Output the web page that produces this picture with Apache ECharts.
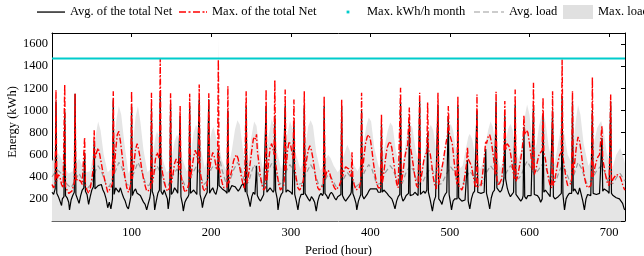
<!DOCTYPE html>
<html>
<head>
<meta charset="utf-8">
<script src="https://cdn.jsdelivr.net/npm/echarts@6/dist/echarts.min.js"></script>
<style>
  html, body { margin: 0; padding: 0; background: #fff; }
  #chart { width: 644px; height: 256px; }
</style>
</head>
<body>
<div id="chart"></div>
<script>
// tick labels shown on the axes
var xTicks = [100, 200, 300, 400, 500, 600, 700]
var yTicks = [200, 400, 600, 800, 1000, 1200, 1400, 1600]

// Max. kWh/h month (flat line)
var maxMonth = [[0, 1470], [720, 1470]]

// Max. load [hour, kWh]
var maxLoad = [[0,540],[4,600],[8,610],[12,560],[16,470],[21,430],
  [26,450],[30,520],[34,565],[38,500],[43,440],
  [48,450],[52,620],[55,780],[58,900],[61,820],[65,600],[70,440],
  [74,470],[78,700],[81,920],[84,1040],[87,960],[91,700],[96,430],
  [99,480],[102,720],[105,940],[108,1040],[111,900],[115,640],[120,440],
  [124,470],[127,620],[130,760],[132,814],[135,740],[139,560],[144,440],
  [148,460],[151,600],[154,720],[157,780],[160,740],[164,560],[169,450],
  [172,480],[175,640],[178,800],[181,870],[184,820],[188,620],[192,480],
  [195,560],[198,720],[201,820],[203,850],[206,760],[208,700],[209,1660],[210,700],[213,560],[218,470],
  [222,500],[226,640],[230,830],[233,910],[236,870],[240,640],[244,470],
  [247,560],[250,740],[254,900],[257,860],[261,620],[265,470],
  [268,520],[272,760],[276,920],[279,860],[283,620],[288,470],
  [291,540],[295,760],[299,905],[302,840],[306,620],[312,470],
  [315,520],[319,700],[322,860],[325,910],[328,860],[332,620],[337,460],
  [340,480],[344,560],[347,600],[350,570],[354,500],[359,440],
  [362,470],[366,580],[371,690],[374,640],[378,520],[384,450],
  [387,500],[391,680],[395,860],[398,935],[401,900],[405,660],[411,480],
  [414,520],[418,680],[422,820],[425,890],[428,860],[432,640],[437,480],
  [440,510],[444,680],[447,820],[450,880],[453,840],[457,640],[463,480],
  [466,520],[470,700],[473,820],[476,870],[479,820],[483,620],[488,480],
  [491,520],[495,700],[498,820],[501,880],[504,820],[508,620],[513,480],
  [516,500],[520,650],[523,760],[525,790],[528,740],[532,580],[538,470],
  [541,520],[545,700],[548,820],[551,900],[554,850],[558,640],[563,480],
  [566,520],[570,720],[573,830],[576,880],[579,820],[582,660],[586,560],
  [589,620],[592,820],[595,980],[597,1054],[600,960],[603,760],[606,640],
  [609,700],[612,860],[615,950],[617,980],[620,900],[624,680],[629,500],
  [632,540],[636,700],[639,820],[641,850],[644,780],[648,600],[652,540],
  [655,680],[658,900],[661,1050],[664,960],[668,700],[674,500],
  [677,540],[681,700],[685,840],[690,905],[693,820],[697,620],[702,480],
  [705,500],[709,600],[714,660],[717,600],[720,520]]

// Avg. load [hour, kWh]
var avgLoad = [[0,400],[4,440],[8,455],[13,420],[19,330],[24,300],[30,380],[34,430],[39,360],[45,300],
  [50,340],[55,460],[58,500],[62,450],[68,330],[72,310],[78,420],[84,530],[88,480],[94,330],
  [98,320],[103,440],[108,530],[112,470],[118,330],[122,320],[127,420],[132,500],[136,440],[142,320],
  [146,320],[151,400],[157,470],[161,430],[167,320],[171,320],[176,420],[181,490],[185,440],[191,330],
  [195,360],[200,470],[203,500],[207,470],[210,600],[213,480],[219,330],[223,350],[228,460],[233,530],
  [237,480],[243,330],[247,350],[251,450],[254,510],[258,460],[264,330],[268,360],[272,460],[276,520],
  [280,470],[286,330],[290,360],[295,460],[299,510],[303,460],[309,330],[314,340],[320,440],[325,510],
  [329,460],[335,330],[340,320],[344,380],[347,420],[351,390],[357,310],[362,320],[367,390],[371,440],
  [375,400],[382,310],[387,340],[393,450],[398,510],[402,470],[408,330],[413,340],[419,440],[425,500],
  [429,460],[435,330],[440,340],[445,440],[450,500],[454,460],[460,330],[465,340],[471,430],[476,480],
  [480,440],[486,330],[490,340],[496,430],[501,490],[505,450],[511,330],[516,330],[521,400],[525,450],
  [529,410],[536,320],[541,340],[546,440],[551,500],[555,460],[561,340],[566,350],[571,440],[576,500],
  [580,460],[586,380],[590,420],[594,500],[597,540],[601,490],[606,420],[611,460],[617,520],[621,470],
  [628,340],[633,360],[638,460],[641,500],[645,460],[651,350],[656,420],[661,530],[665,480],[672,340],
  [677,360],[684,450],[690,500],[694,450],[700,330],[705,340],[710,400],[714,430],[718,380],[720,360]]

// Avg. of the total Net [hour, kWh]
var netAvg = [[0,260],[2,240],[4,290],[5,1080],[6,250],[8,220],[10,210],[12,140],[13,200],[15,220],[16,1000],[17,230],
  [19,210],[21,170],[22,100],[24,190],[26,230],[28,260],[29,1150],[30,240],[32,200],[34,160],[36,230],[38,280],
  [40,300],[41,620],[42,270],[44,240],[46,150],[48,220],[50,280],[52,310],[53,720],[54,290],[56,300],[58,320],
  [60,310],[62,330],[64,280],[66,250],[68,200],[70,120],[72,170],[74,110],[76,200],[77,1100],[78,240],[80,300],
  [82,280],[84,260],[86,300],[88,250],[90,210],[92,180],[94,130],[96,110],[98,180],[99,220],[100,1050],[101,230],
  [103,270],[105,290],[107,250],[109,260],[111,230],[113,200],[115,170],[117,150],[119,100],[121,160],[123,210],[124,260],
  [125,1020],[126,270],[128,220],[129,100],[131,180],[133,250],[135,280],[136,1130],[137,270],[139,240],[141,280],[143,290],
  [145,200],[146,110],[148,220],[149,1060],[150,240],[152,260],[154,300],[156,280],[158,250],[160,240],[161,950],[162,220],
  [164,150],[165,90],[167,170],[169,200],[171,220],[172,240],[173,1040],[174,250],[176,260],[178,280],[180,260],[182,240],
  [184,250],[185,1100],[186,240],[188,180],[189,120],[191,200],[193,230],[195,260],[196,250],[197,1100],[198,250],[200,280],
  [202,300],[204,260],[206,240],[208,300],[209,650],[210,320],[212,310],[214,290],[216,300],[218,270],[220,250],[221,1000],
  [222,260],[224,290],[226,320],[228,330],[230,310],[232,290],[234,270],[236,290],[238,320],[240,340],[242,300],[243,260],
  [244,1040],[245,250],[247,200],[249,130],[251,220],[253,260],[255,240],[256,250],[257,500],[258,230],[260,200],[262,180],
  [264,210],[266,240],[268,250],[269,1040],[270,260],[272,280],[274,300],[276,290],[278,260],[279,280],[280,950],[281,270],
  [283,200],[284,100],[286,200],[288,240],[290,260],[292,250],[293,1040],[294,260],[296,280],[298,290],[300,260],[302,240],
  [303,250],[304,900],[305,240],[307,180],[309,100],[311,200],[313,240],[315,250],[316,240],[317,1040],[318,250],[320,240],
  [322,200],[324,180],[326,220],[328,200],[330,170],[332,90],[334,180],[336,230],[338,250],[340,230],[341,250],[342,1040],
  [343,250],[345,230],[347,200],[349,240],[351,260],[353,240],[355,210],[357,190],[359,220],[361,230],[363,240],[364,1040],
  [365,230],[367,200],[369,180],[371,200],[373,210],[375,240],[376,260],[377,450],[378,250],[380,210],[382,160],[383,100],
  [385,180],[387,220],[388,240],[389,1000],[390,230],[392,200],[394,210],[396,240],[398,270],[400,290],[402,300],[404,290],
  [406,280],[408,290],[410,260],[412,250],[413,260],[414,880],[415,260],[417,280],[419,270],[421,250],[423,230],[425,220],
  [427,200],[429,160],[431,110],[433,180],[435,220],[437,240],[438,1080],[439,230],[441,180],[443,200],[445,230],[447,240],
  [448,250],[449,900],[450,230],[452,220],[454,240],[456,260],[458,250],[460,230],[461,240],[462,1080],[463,240],[465,250],
  [467,270],[469,250],[471,280],[472,800],[473,260],[475,200],[478,90],[480,180],[482,220],[484,210],[485,1050],[486,200],
  [488,180],[490,150],[492,210],[494,240],[496,260],[497,270],[498,950],[499,240],[501,150],[502,100],[504,180],[506,200],
  [508,190],[509,200],[510,1050],[511,210],[513,200],[515,180],[517,170],[519,190],[521,200],[522,550],[523,180],[525,110],
  [527,200],[529,250],[531,270],[533,260],[534,1000],[535,260],[537,270],[539,250],[541,240],[543,260],[544,270],[545,650],
  [546,250],[548,190],[550,110],[552,210],[554,260],[556,280],[557,290],[558,1080],[559,300],[561,280],[563,260],[565,280],
  [567,330],[568,400],[569,950],[570,380],[572,300],[574,250],[576,220],[578,240],[580,260],[581,250],[582,1050],[583,240],
  [585,220],[587,200],[589,180],[591,200],[592,230],[593,850],[594,220],[596,200],[598,230],[600,240],[602,230],[604,240],
  [605,1050],[606,240],[608,250],[610,230],[612,210],[614,170],[616,200],[617,950],[618,260],[620,280],[622,260],[624,240],
  [626,220],[628,210],[629,1000],[630,220],[632,200],[634,190],[636,220],[638,230],[640,250],[641,1130],[642,240],[644,100],
  [646,200],[648,230],[650,250],[652,240],[653,250],[654,1080],[655,270],[657,290],[659,260],[661,240],[663,300],[665,240],
  [667,180],[669,100],[671,200],[673,240],[675,250],[677,230],[678,240],[679,1000],[680,250],[682,260],[684,240],[686,230],
  [688,250],[690,260],[691,750],[692,270],[694,290],[696,300],[698,270],[700,250],[701,260],[702,1080],[703,250],[705,230],
  [707,220],[709,210],[711,220],[713,200],[715,190],[717,160],[719,110],[720,100]]

// Max. of the total Net [hour, kWh]
var netMax = [[0,330],[2,300],[4,340],[5,1183],[6,360],[8,420],[10,400],[12,330],[14,300],[15,290],[16,1234],[17,300],
  [19,280],[21,250],[23,240],[25,270],[27,320],[28,340],[29,1153],[30,360],[32,380],[34,390],[36,360],[38,330],
  [40,320],[41,757],[42,320],[44,280],[46,250],[48,290],[50,380],[52,480],[53,820],[54,560],[56,620],[58,660],
  [60,600],[62,520],[64,440],[66,380],[68,320],[70,260],[72,280],[74,300],[76,340],[77,1174],[78,420],[80,640],
  [82,780],[84,810],[86,720],[88,600],[90,480],[92,380],[94,300],[96,260],[98,300],[99,340],[100,1174],[101,380],
  [103,520],[105,650],[107,700],[109,640],[111,560],[113,460],[115,380],[117,320],[119,270],[121,260],[123,280],[124,300],
  [125,1160],[126,340],[128,420],[130,560],[132,620],[134,580],[135,560],[136,1465],[137,520],[139,430],[141,360],[143,300],
  [145,270],[147,280],[148,300],[149,1156],[150,340],[152,420],[154,520],[156,560],[158,520],[160,460],[161,1039],[162,420],
  [164,340],[166,280],[168,260],[170,290],[172,330],[173,1150],[174,380],[176,480],[178,580],[180,640],[182,600],[184,520],
  [185,1234],[186,460],[188,360],[190,290],[192,270],[194,300],[196,380],[197,1156],[198,460],[200,560],[202,620],[204,580],
  [206,500],[208,460],[209,1460],[210,480],[212,400],[214,340],[216,300],[218,290],[220,310],[221,1219],[222,340],[224,400],
  [226,460],[228,540],[230,580],[232,600],[234,560],[236,480],[238,400],[240,330],[242,290],[243,300],[244,1174],[245,340],
  [247,420],[249,520],[251,640],[253,740],[255,760],[256,740],[257,784],[258,640],[260,520],[262,400],[264,320],[266,280],
  [268,300],[269,1189],[270,360],[272,520],[274,660],[276,700],[278,640],[279,600],[280,1273],[281,520],[283,420],[285,330],
  [287,280],[289,280],[291,320],[292,380],[293,1189],[294,460],[296,640],[298,720],[300,680],[302,600],[303,560],[304,1099],
  [305,480],[307,380],[309,300],[311,280],[313,300],[315,340],[316,380],[317,1174],[318,440],[320,560],[322,640],[324,680],
  [326,640],[328,560],[330,460],[332,360],[334,300],[336,280],[338,290],[340,320],[341,340],[342,1129],[343,380],[345,440],
  [347,460],[349,430],[351,380],[353,330],[355,300],[357,280],[359,290],[361,320],[363,360],[364,1099],[365,400],[367,460],
  [369,490],[371,500],[373,470],[375,420],[376,400],[377,622],[378,380],[380,320],[382,280],[384,270],[386,300],[388,360],
  [389,1159],[390,440],[392,580],[394,700],[396,760],[398,780],[400,740],[402,640],[404,520],[406,420],[408,340],[410,300],
  [412,290],[413,300],[414,964],[415,340],[417,440],[419,560],[421,660],[423,700],[425,720],[427,660],[429,560],[431,440],
  [433,340],[435,300],[437,300],[438,1204],[439,340],[441,440],[443,560],[445,640],[447,690],[448,700],[449,1027],[450,680],
  [452,600],[454,500],[456,400],[458,320],[460,300],[461,310],[462,1159],[463,350],[465,440],[467,540],[469,600],[471,620],
  [472,1072],[473,640],[475,620],[477,520],[479,400],[481,320],[483,290],[484,300],[485,1159],[486,330],[488,400],[490,480],
  [492,560],[494,660],[496,740],[497,780],[498,1039],[499,800],[501,800],[503,700],[505,560],[507,420],[509,330],[510,1129],
  [511,320],[513,300],[515,280],[517,320],[519,420],[521,520],[522,667],[523,560],[525,560],[527,500],[529,420],[531,340],
  [533,300],[534,1144],[535,310],[537,300],[539,320],[541,420],[543,560],[544,640],[545,724],[546,700],[548,760],[550,780],
  [552,720],[554,620],[556,500],[557,420],[558,1168],[559,380],[561,320],[563,310],[565,380],[567,520],[568,600],[569,1084],
  [570,640],[572,700],[574,680],[576,620],[578,520],[580,420],[581,380],[582,1189],[583,360],[585,400],[587,480],[589,560],
  [591,660],[592,740],[593,955],[594,780],[596,820],[598,800],[600,700],[602,580],[604,460],[605,1249],[606,420],[608,460],
  [610,540],[612,600],[614,620],[616,640],[617,1114],[618,620],[620,560],[622,460],[624,380],[626,320],[628,300],[629,1174],
  [630,320],[632,380],[634,460],[636,540],[638,600],[640,620],[641,1460],[642,580],[644,480],[646,380],[648,320],[650,310],
  [652,340],[653,380],[654,1174],[655,420],[657,540],[659,680],[661,760],[663,720],[665,620],[667,500],[669,400],[671,330],
  [673,300],[675,290],[677,320],[678,360],[679,1300],[680,400],[682,480],[684,540],[686,580],[688,600],[690,600],[691,859],
  [692,560],[694,480],[696,400],[698,340],[700,320],[701,330],[702,1144],[703,340],[705,380],[707,400],[709,420],[711,420],
  [713,410],[715,380],[717,330],[719,290],[720,280]]

var font = 'Liberation Serif'
var txt = { fontFamily: font, fontSize: 12.5, color: '#000' }

// legend handles drawn as paths (corner moves keep the box size)
var iconSolid = 'path://M0 0M28 14M0 6.4h28v1.3h-28z'
var iconDashDot = 'path://M0 0M28 14M0 6.3h7v1.4h-7zM9.5 6.3h2v1.4h-2zM14 6.3h7v1.4h-7zM23.5 6.3h2v1.4h-2zM27 6.3h1v1.4h-1z'
var iconDot = 'path://M0 0M28 14M12.6 5.6h2.8v2.8h-2.8z'
var iconDash = 'path://M0 0M30 14M0 6.4h6v1.2h-6zM9 6.4h6v1.2h-6zM18 6.4h6v1.2h-6zM27 6.4h3v1.2h-3z'
var iconRect = 'path://M0 0h30v14h-30z'

var chart = echarts.init(document.getElementById('chart'), null, { renderer: 'canvas' })

function legendAt(left, name, w, icon) {
    return {
        left: left, top: 5, padding: 0,
        itemWidth: w, itemHeight: 14,
        selectedMode: false,
        textStyle: txt,
        data: [{ name: name, icon: icon }]
    }
}

var option = {
    animation: false,
    backgroundColor: '#fff',
    legend: [
        legendAt(37, 'Avg. of the total Net', 28, iconSolid),
        legendAt(179, 'Max. of the total Net', 28, iconDashDot),
        legendAt(334, 'Max. kWh/h month', 28, iconDot),
        legendAt(474, 'Avg. load', 30, iconDash),
        legendAt(563, 'Max. load', 30, iconRect)
    ],
    // y axis title, placed by hand
    graphic: [{
        type: 'text', x: 13, y: 122, rotation: Math.PI / 2,
        style: { text: 'Energy (kWh)', font: '12.5px "Liberation Serif"', fill: '#000',
                 textAlign: 'center', textVerticalAlign: 'middle' }
    }],
    grid: { left: 52, right: 19, top: 33, bottom: 35, outerBoundsMode: 'none', containLabel: false },
    xAxis: [{
        type: 'value', min: 0, max: 720, interval: 100, position: 'bottom',
        name: 'Period (hour)', nameLocation: 'middle', nameGap: 22,
        nameTextStyle: txt,
        axisLine: { onZero: false, lineStyle: { color: '#666', width: 1 } },
        axisTick: { show: false },
        axisLabel: Object.assign({ margin: 5, formatter: function(v) {
            return xTicks.indexOf(v) >= 0 ? String(v) : ''
        } }, txt),
        splitLine: { show: false }
    }, {
        type: 'value', min: 0, max: 720, interval: 100, position: 'top',
        axisLine: { onZero: false, lineStyle: { color: '#000', width: 1 } },
        axisTick: { inside: true, length: 4, lineStyle: { color: '#000' } },
        axisLabel: { show: false },
        splitLine: { show: false }
    }],
    yAxis: [{
        type: 'value', min: 0, max: 1700, interval: 200, position: 'left',
        axisLine: { show: true, onZero: false, lineStyle: { color: '#000', width: 1 } },
        axisTick: { show: false },
        axisLabel: Object.assign({ margin: 4, formatter: function(v) {
            return yTicks.indexOf(v) >= 0 ? String(v) : ''
        } }, txt),
        splitLine: { show: false }
    }, {
        type: 'value', min: 0, max: 1700, interval: 200, position: 'right',
        axisLine: { show: true, onZero: false, lineStyle: { color: '#000', width: 1 } },
        axisTick: { inside: true, length: 4, lineStyle: { color: '#000' } },
        axisLabel: { show: false },
        splitLine: { show: false }
    }],
    series: [{
        name: 'Max. load', type: 'line', data: maxLoad,
        symbol: 'none', z: 1,
        itemStyle: { color: '#e0e0e0' },
        lineStyle: { width: 0, color: '#e3e3e3' },
        areaStyle: { color: '#e5e5e5', opacity: 1 }
    }, {
        name: 'Avg. load', type: 'line', data: avgLoad,
        symbol: 'none', z: 2,
        itemStyle: { color: '#9a9a9a' },
        lineStyle: { width: 1.2, color: '#9a9a9a', type: [5, 3] }
    }, {
        name: 'Avg. of the total Net', type: 'line', data: netAvg,
        symbol: 'none', z: 3,
        itemStyle: { color: '#000' },
        lineStyle: { width: 1.2, color: '#000' }
    }, {
        name: 'Max. of the total Net', type: 'line', data: netMax,
        symbol: 'none', z: 4,
        itemStyle: { color: '#ff0000' },
        lineStyle: { width: 1.4, color: '#ff0000', type: [6, 2, 1.5, 2] }
    }, {
        name: 'Max. kWh/h month', type: 'line', data: maxMonth,
        symbol: 'none', z: 5,
        itemStyle: { color: '#00cccc' },
        lineStyle: { width: 2, color: '#00cccc' }
    }]
}

chart.setOption(option)
</script>
</body>
</html>
